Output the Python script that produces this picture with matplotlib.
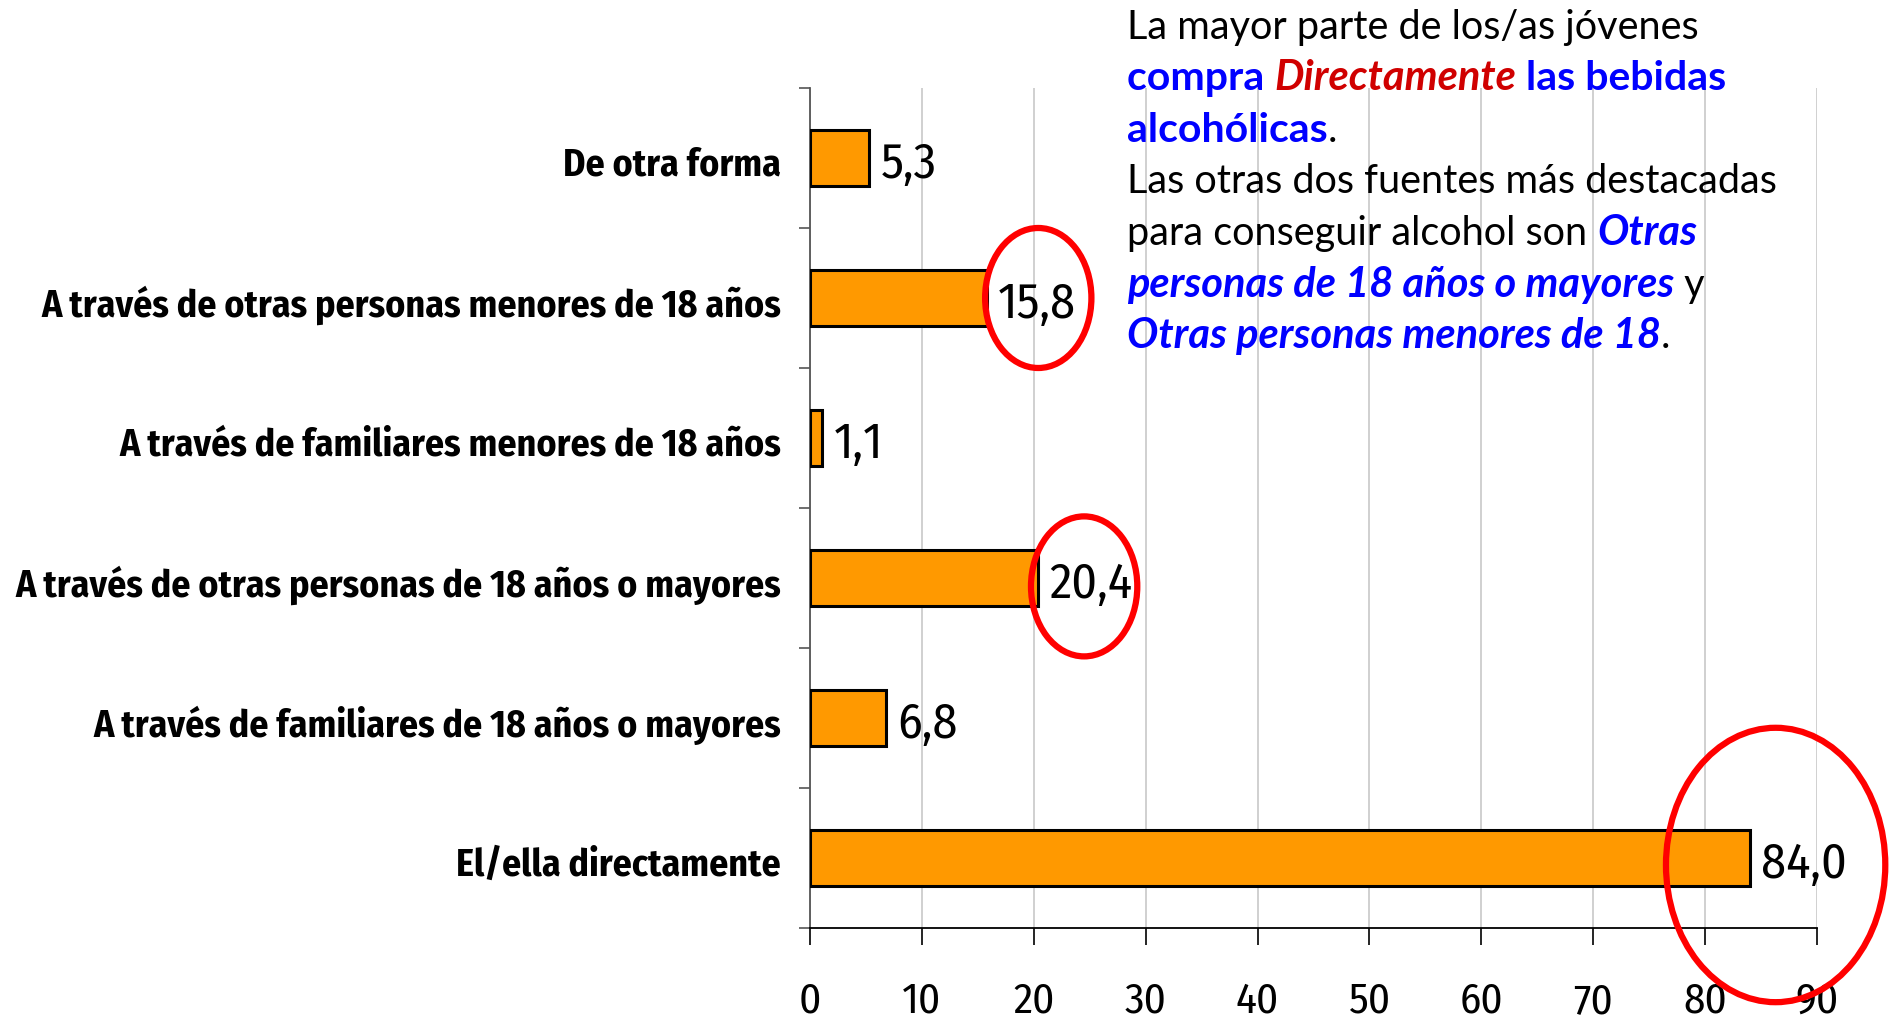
import matplotlib
matplotlib.use("Agg")
import matplotlib.pyplot as plt
from matplotlib.patches import Ellipse
from matplotlib.ticker import FixedLocator
from matplotlib.transforms import ScaledTranslation
import numpy as np

categories = [
    "El/ella directamente",
    "A través de familiares de 18 años o mayores",
    "A través de otras personas de 18 años o mayores",
    "A través de familiares menores de 18 años",
    "A través de otras personas menores de 18 años",
    "De otra forma",
]
values = [84.0, 6.8, 20.4, 1.1, 15.8, 5.3]
value_labels = ["84,0", "6,8", "20,4", "1,1", "15,8", "5,3"]
xticks = [0, 10, 20, 30, 40, 50, 60, 70, 80, 90]
highlighted = [0, 2, 4]

COND = ["Fira Sans Condensed", "Barlow Semi Condensed", "DejaVu Sans"]
REG = ["Lato", "Liberation Sans", "DejaVu Sans"]

fig = plt.figure(figsize=(18.89, 10.22), dpi=100)
ax = fig.add_axes([0.4288, 0.092, 0.5331, 0.8219])

y = np.arange(len(categories))
ax.barh(y, values, height=0.4, color="#FF9900", edgecolor="black", linewidth=2.2, zorder=3)

ax.set_xlim(0, 90)
ax.set_ylim(-0.5, len(categories) - 0.5)
ax.set_xticks(xticks)
ax.set_xticklabels([str(t) for t in xticks], fontsize=31, family=COND)
ax.xaxis.grid(True, color="#C8C8C8", linewidth=1.2, zorder=0)
ax.set_axisbelow(True)

ax.set_yticks(y)
ax.set_yticklabels(categories, fontsize=27.2, fontweight="bold", family=COND)
ax.yaxis.set_minor_locator(FixedLocator(np.arange(-0.5, len(categories), 1.0)))
ax.tick_params(axis="y", which="major", length=0, pad=21)
ax.tick_params(axis="y", which="minor", length=8, width=1.2, color="#555555", direction="out")
ax.tick_params(axis="x", which="major", length=12, width=1.2, color="black", direction="out", pad=26)
shift = ScaledTranslation(0, -3.5 / 100, fig.dpi_scale_trans)
for lab in ax.get_yticklabels():
    lab.set_transform(lab.get_transform() + shift)

for s in ["top", "right"]:
    ax.spines[s].set_visible(False)
ax.spines["left"].set_color("#555555")
ax.spines["left"].set_linewidth(1.3)
ax.spines["bottom"].set_color("black")
ax.spines["bottom"].set_linewidth(1.3)

for yi, v, lab in zip(y, values, value_labels):
    ax.annotate(lab, (v, yi), xytext=(8, -4.5), textcoords="offset points",
                va="center", ha="left", fontsize=36, family=COND, zorder=5)

# red highlight ellipses (offsets from the bar end)
ell_specs = {4: (4.6, 0.0, 9.5, 1.0), 2: (4.1, -0.06, 9.5, 1.0), 0: (2.3, -0.05, 19.6, 1.96)}
for idx in highlighted:
    dx, dy, w, h = ell_specs[idx]
    e = Ellipse((values[idx] + dx, y[idx] + dy), w, h, fill=False, edgecolor="#FF0000",
                linewidth=4.5, zorder=6, clip_on=False)
    ax.add_patch(e)

# annotation text block with mixed styles
lines = [
    [("La mayor parte de los/as jóvenes", "black", "normal", "normal")],
    [("compra ", "#0000FF", "bold", "normal"), ("Directamente", "#D00000", "bold", "italic"),
     (" las bebidas", "#0000FF", "bold", "normal")],
    [("alcohólicas", "#0000FF", "bold", "normal"), (".", "black", "normal", "normal")],
    [("Las otras dos fuentes más destacadas", "black", "normal", "normal")],
    [("para conseguir alcohol son ", "black", "normal", "normal"),
     ("Otras", "#0000FF", "bold", "italic")],
    [("personas de 18 años o mayores", "#0000FF", "bold", "italic"), (" y", "black", "normal", "normal")],
    [("Otras personas menores de 18", "#0000FF", "bold", "italic"), (".", "black", "normal", "normal")],
]
fig.canvas.draw()
renderer = fig.canvas.get_renderer()
W, H = fig.get_size_inches() * fig.dpi
x0 = 1127
base0 = 38.5
step = 51.6
for i, runs in enumerate(lines):
    xp = x0
    yb = base0 + i * step
    for txt, col, wt, st in runs:
        if wt == "bold":
            fs = 30 if st == "italic" else 29.5
        else:
            fs = 28.5
        t = fig.text(xp / W, 1 - yb / H, txt, color=col, fontweight=wt, fontstyle=st,
                     fontsize=fs, family=REG, va="baseline", ha="left")
        bb = t.get_window_extent(renderer=renderer)
        xp += bb.width

fig.savefig("out.png", dpi=100)
